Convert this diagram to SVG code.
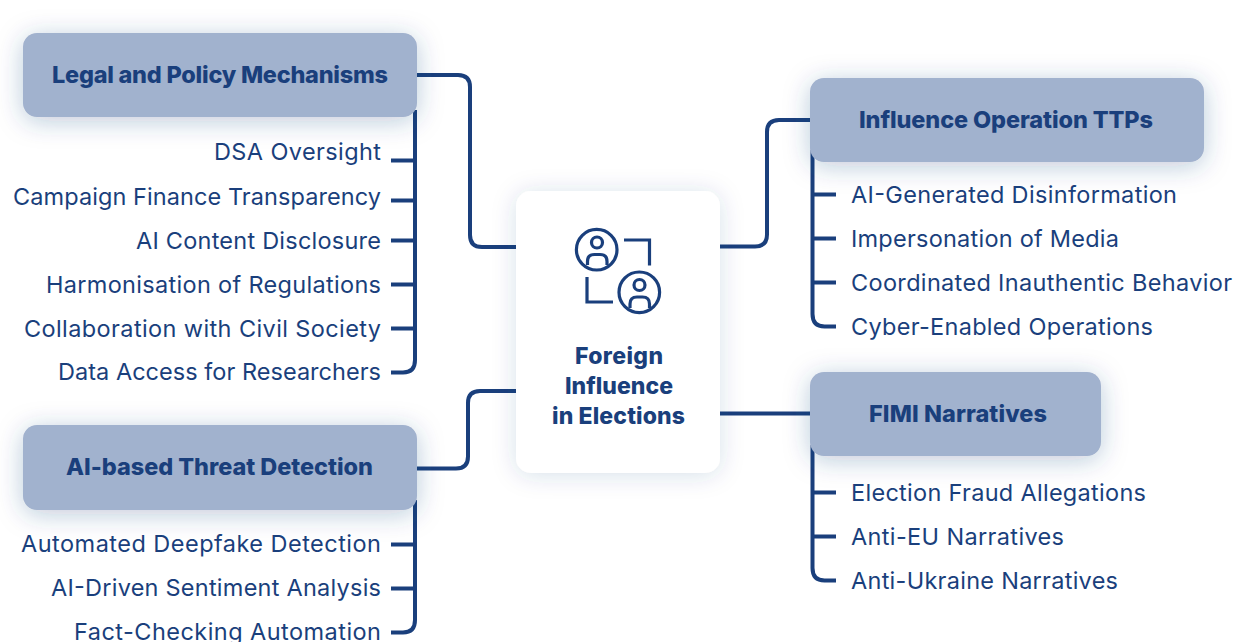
<svg xmlns="http://www.w3.org/2000/svg" width="1235" height="642" viewBox="0 0 1235 642">
<style>
text{font-family:"Inter","Noto Sans","Liberation Sans",sans-serif;fill:#1a3f7c}
.l{font-size:23.500px;font-weight:400}
.t{font-size:23.500px;font-weight:800}
.c{font-size:23px;font-weight:800}
.cn{fill:none;stroke:#1a3f7c;stroke-width:4}
.ic{fill:none;stroke:#1a3f7c;stroke-width:3.200}
.box{fill:#a1b2ce;filter:url(#s)}
</style>
<defs>
<filter id="s" x="-12%" y="-28%" width="124%" height="165%"><feDropShadow dx="0" dy="4" stdDeviation="13" flood-color="#1a3f7c" flood-opacity="0.28"/></filter>
<filter id="s2" x="-30%" y="-15%" width="160%" height="130%"><feDropShadow dx="0" dy="2" stdDeviation="12" flood-color="#1a3f7c" flood-opacity="0.16"/></filter>
</defs>
<rect width="1235" height="642" fill="#ffffff"/>
<g id="connectors" class="cn">
<path d="M417 75H458Q470 75 470 87V235Q470 247 482 247H516"/>
<path d="M720 246.500H755Q767 246.500 767 234.500V132Q767 120 779 120H810"/>
<path d="M720 413.500H810"/>
<path d="M417 468.500H456Q468 468.500 468 456.500V403Q468 391 480 391H516"/>
<path d="M415 110V360Q415 372.500 403 372.500H391M391 160.500H415M391 200.500H415M391 240.500H415M391 284.500H415M391 328.500H415"/>
<path d="M812.500 150V314Q812.500 326.500 824.500 326.500H836M812.500 194.500H836M812.500 238.500H836M812.500 282.500H836"/>
<path d="M812.500 445V568Q812.500 580.500 824.500 580.500H836M812.500 492.500H836M812.500 536.500H836"/>
<path d="M415 500V620Q415 632.500 403 632.500H391M391 544.500H415M391 588.500H415"/>
</g>
<g id="center">
<rect x="516" y="191" width="204" height="282" rx="15" fill="#fff" filter="url(#s2)"/>
<g class="ic">
<circle cx="596.700" cy="249.700" r="20.300"/>
<circle cx="597" cy="242.500" r="5.500"/>
<path d="M587.500 265V261.500Q587.500 254.500 594.500 254.500H600Q607 254.500 607 261.500V265"/>
<circle cx="639.300" cy="292.300" r="20.300"/>
<circle cx="639.500" cy="285" r="5.500"/>
<path d="M630 308V304Q630 297 637 297H642.500Q649.500 297 649.500 304V308"/>
<path d="M624 240H649.500V265.500"/>
<path d="M587 277V302H613"/>
</g>
<text class="c" x="575" y="364" textLength="88">Foreign</text>
<text class="c" x="565" y="394" textLength="108">Influence</text>
<text class="c" x="552" y="424" textLength="133">in Elections</text>
</g>
<g id="legal">
<rect class="box" x="23" y="33" width="394" height="84" rx="14"/>
<text class="t" x="52" y="83" textLength="336">Legal and Policy Mechanisms</text>
</g>
<g id="ttps">
<rect class="box" x="810" y="78" width="394" height="84" rx="14"/>
<text class="t" x="859" y="128" textLength="294">Influence Operation TTPs</text>
</g>
<g id="fimi">
<rect class="box" x="810" y="372" width="291" height="84" rx="14"/>
<text class="t" x="869" y="422" textLength="178">FIMI Narratives</text>
</g>
<g id="detection">
<rect class="box" x="23" y="425" width="394" height="85" rx="14"/>
<text class="t" x="66" y="475" textLength="307">AI-based Threat Detection</text>
</g>
<g id="legal-items">
<text class="l" x="214" y="160" textLength="167">DSA Oversight</text>
<text class="l" x="13" y="205" textLength="368">Campaign Finance Transparency</text>
<text class="l" x="136" y="249" textLength="245">AI Content Disclosure</text>
<text class="l" x="46" y="293" textLength="335">Harmonisation of Regulations</text>
<text class="l" x="24" y="337" textLength="357">Collaboration with Civil Society</text>
<text class="l" x="58" y="380" textLength="323">Data Access for Researchers</text>
</g>
<g id="detection-items">
<text class="l" x="21" y="552" textLength="360">Automated Deepfake Detection</text>
<text class="l" x="51" y="596" textLength="330">AI-Driven Sentiment Analysis</text>
<text class="l" x="74" y="640" textLength="307">Fact-Checking Automation</text>
</g>
<g id="ttps-items">
<text class="l" x="851" y="203" textLength="326">AI-Generated Disinformation</text>
<text class="l" x="851" y="247" textLength="268">Impersonation of Media</text>
<text class="l" x="851" y="291" textLength="381">Coordinated Inauthentic Behavior</text>
<text class="l" x="851" y="335" textLength="302">Cyber-Enabled Operations</text>
</g>
<g id="fimi-items">
<text class="l" x="851" y="501" textLength="295">Election Fraud Allegations</text>
<text class="l" x="851" y="545" textLength="213">Anti-EU Narratives</text>
<text class="l" x="851" y="589" textLength="267">Anti-Ukraine Narratives</text>
</g>
</svg>
